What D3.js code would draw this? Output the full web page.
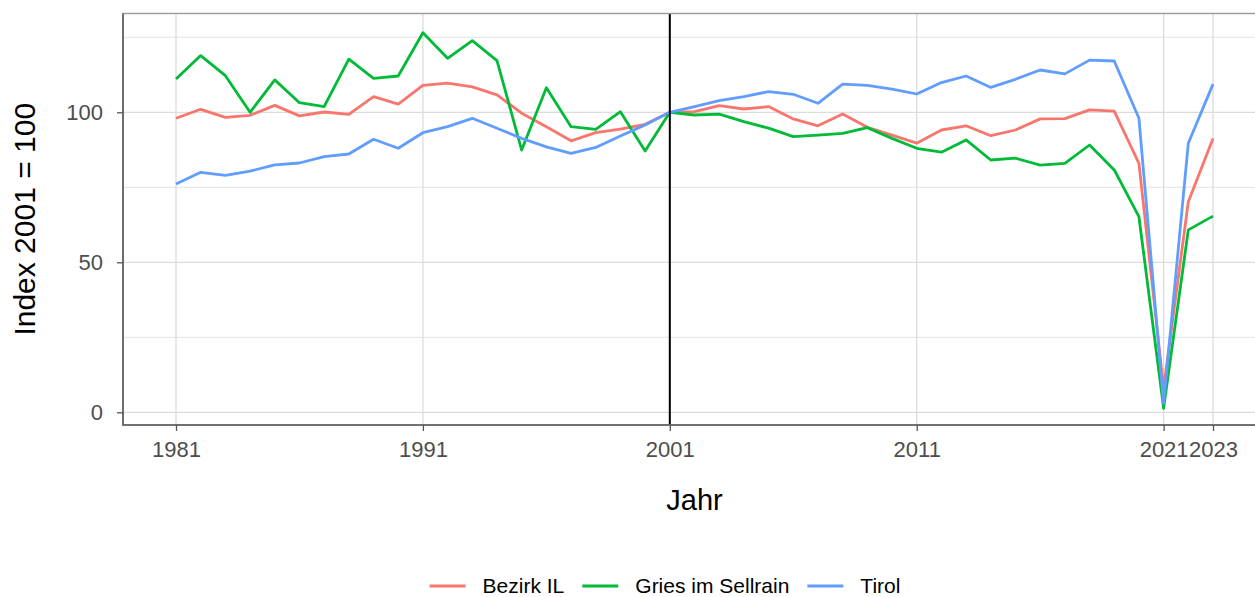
<!DOCTYPE html>
<html>
<head>
<meta charset="utf-8">
<script src="https://cdn.jsdelivr.net/npm/d3@7"></script>
<style>
	body {margin:0; background:#fff;}
	svg {display:block; font-family:"Liberation Sans", Arial, sans-serif;}
</style>
</head>
<body>
<script>
//index values, 2001 = 100
var years = [1981,1982,1983,1984,1985,1986,1987,1988,1989,1990,
	1991,1992,1993,1994,1995,1996,1997,1998,1999,2000,
	2001,2002,2003,2004,2005,2006,2007,2008,2009,2010,
	2011,2012,2013,2014,2015,2016,2017,2018,2019,2020,
	2021,2022,2023];
var bezirkIL = [98.0,101.0,98.3,99.0,102.3,98.8,100.1,99.3,105.2,102.7,
	109.0,109.7,108.5,105.8,99.7,95.2,90.5,93.2,94.4,96.0,
	100,100.2,102.2,101.1,101.9,97.8,95.5,99.4,95.0,92.4,
	89.7,94.1,95.5,92.2,94.1,97.8,97.9,100.8,100.4,83.0,
	8.0,70.2,91.3];
var gries = [111.1,118.9,112.2,100.0,110.8,103.2,101.9,117.7,111.3,112.1,
	126.5,118.0,123.9,117.2,87.4,108.2,95.2,94.3,100.2,87.1,
	100,99.1,99.4,96.9,94.7,91.9,92.4,93.0,94.9,91.3,
	88.0,86.7,90.8,84.1,84.7,82.4,83.0,89.1,80.8,65.2,
	1.3,60.8,65.4];
var tirol = [76.1,80.0,79.0,80.4,82.5,83.1,85.2,86.1,91.0,88.0,
	93.2,95.2,98.0,94.7,91.3,88.5,86.3,88.3,92.1,95.8,
	100,101.9,103.9,105.2,106.9,106.0,103.0,109.4,109.0,107.7,
	106.1,109.9,112.1,108.3,111.0,114.1,112.8,117.4,117.1,98.0,
	3.0,89.7,109.4];
var seriesNames = ["Bezirk IL", "Gries im Sellrain", "Tirol"];
var seriesColors = ["#F8766D", "#00BA38", "#619CFF"];
var xTicks = [1981, 1991, 2001, 2011, 2021, 2023];
var yTicks = [0, 50, 100];
var yMinor = [25, 75, 125];
var refYear = 2001;

(function(){
	var w = 1255, h = 597;
	var panel = {left:123, right:1266, top:13.5, bottom:425};

	var svg = d3.select("body").append("svg")
		.attr("width", w)
		.attr("height", h);

	//scales (ggplot style 5% expansion around the data)
	var x = d3.scaleLinear().domain([1981, 2023]).range([176, 1213]);
	var y = d3.scaleLinear().domain([0, 100]).range([412.3, 112.3]);

	//gridlines
	svg.selectAll(".minor").data(yMinor).enter().append("line")
		.attr("x1", panel.left).attr("x2", panel.right)
		.attr("y1", d => y(d)).attr("y2", d => y(d))
		.attr("stroke", "#e3e3e3").attr("stroke-width", 1);
	svg.selectAll(".majorY").data(yTicks).enter().append("line")
		.attr("x1", panel.left).attr("x2", panel.right)
		.attr("y1", d => y(d)).attr("y2", d => y(d))
		.attr("stroke", "#dcdcdc").attr("stroke-width", 1.3);
	svg.selectAll(".majorX").data(xTicks).enter().append("line")
		.attr("x1", d => x(d)).attr("x2", d => x(d))
		.attr("y1", panel.top).attr("y2", panel.bottom)
		.attr("stroke", "#dcdcdc").attr("stroke-width", 1.3);

	//the three lines
	var allSeries = [bezirkIL, gries, tirol];
	var line = d3.line()
		.x((d, i) => x(years[i]))
		.y(d => y(d));
	svg.selectAll(".series").data(allSeries).enter().append("path")
		.attr("d", line)
		.attr("fill", "none")
		.attr("stroke", (d, i) => seriesColors[i])
		.attr("stroke-width", 2.8)
		.attr("stroke-linejoin", "round");

	//reference year
	svg.append("line")
		.attr("x1", x(refYear)).attr("x2", x(refYear))
		.attr("y1", panel.top).attr("y2", panel.bottom)
		.attr("stroke", "#000").attr("stroke-width", 2);

	//panel border
	svg.append("rect")
		.attr("x", panel.left).attr("y", panel.top)
		.attr("width", panel.right - panel.left).attr("height", panel.bottom - panel.top)
		.attr("fill", "none").attr("stroke", "#9a9a9a").attr("stroke-width", 1.4);
	svg.append("path")
		.attr("d", "M" + panel.left + "," + panel.top + "V" + panel.bottom + "H" + panel.right)
		.attr("fill", "none").attr("stroke", "#5a5a5a").attr("stroke-width", 1.6);

	//axes
	var xAxis = svg.append("g")
		.attr("transform", "translate(0," + panel.bottom + ")")
		.call(d3.axisBottom(x).tickValues(xTicks).tickFormat(d3.format("d")).tickSize(6).tickPadding(10));
	var yAxis = svg.append("g")
		.attr("transform", "translate(" + panel.left + ",0)")
		.call(d3.axisLeft(y).tickValues(yTicks).tickSize(6).tickPadding(14));
	[xAxis, yAxis].forEach(function(g){
		g.select(".domain").remove();
		g.selectAll(".tick line").attr("stroke", "#555").attr("stroke-width", 1.3);
		g.selectAll(".tick text")
			.attr("fill", "#4d4d4d")
			.style("font-size", "22px")
			.style("font-family", "Liberation Sans, Arial, sans-serif");
	});

	//axis titles
	svg.append("text")
		.attr("x", (panel.left + panel.right) / 2)
		.attr("y", 510)
		.attr("text-anchor", "middle")
		.style("font-size", "29px")
		.text("Jahr");
	svg.append("text")
		.attr("transform", "translate(35," + (panel.top + panel.bottom) / 2 + ") rotate(-90)")
		.attr("text-anchor", "middle")
		.style("font-size", "30px")
		.text("Index 2001 = 100");

	//legend, centred under the plot
	var legend = svg.append("g");
	var keyW = 36, keyGap = 17, itemGap = 18, lx = 0;
	seriesNames.forEach(function(name, i){
		legend.append("line")
			.attr("x1", lx).attr("x2", lx + keyW)
			.attr("y1", 0).attr("y2", 0)
			.attr("stroke", seriesColors[i]).attr("stroke-width", 2.8);
		var t = legend.append("text")
			.attr("x", lx + keyW + keyGap)
			.attr("y", 7)
			.style("font-size", "21px")
			.text(name);
		lx += keyW + keyGap + t.node().getComputedTextLength() + itemGap;
	});
	lx -= itemGap;
	legend.attr("transform", "translate(" + (665 - lx / 2) + ",586)");
})();
</script>
</body>
</html>
